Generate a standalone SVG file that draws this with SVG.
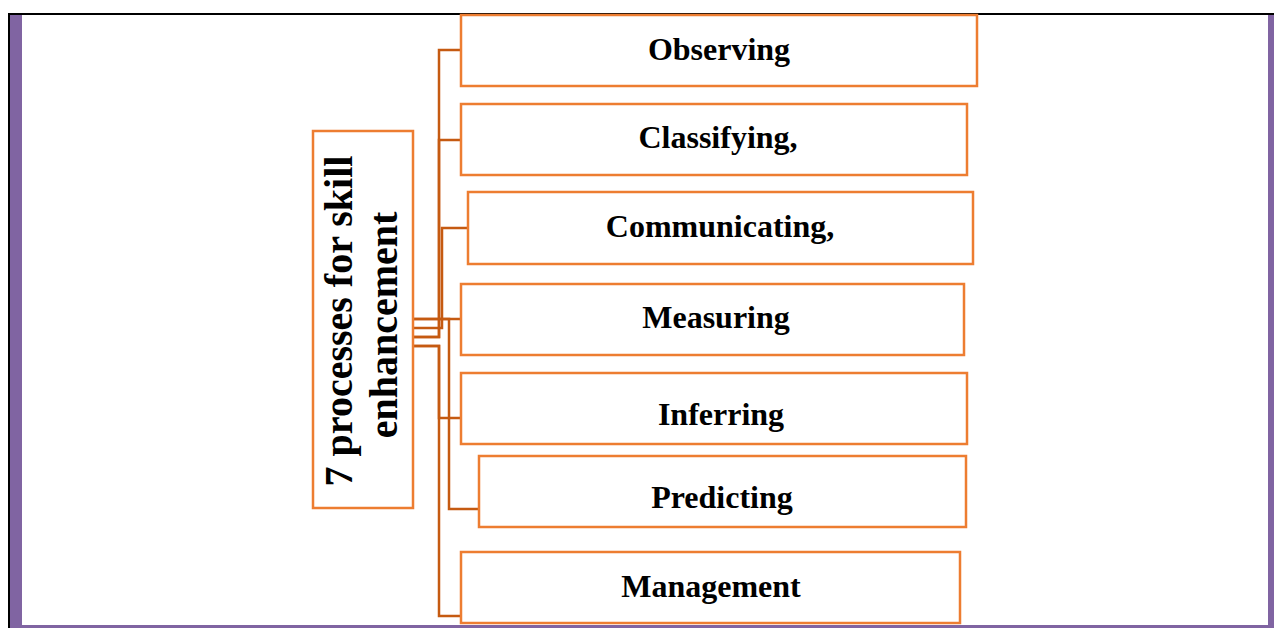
<svg xmlns="http://www.w3.org/2000/svg" width="1274" height="628" viewBox="0 0 1274 628">
  <style>
    .box { fill: #FFFFFF; stroke: #ED7D31; stroke-width: 2.5; }
    .lbl { font-family: "Liberation Serif", "Times New Roman", serif; font-weight: bold; font-size: 32px; fill: #000000; text-anchor: middle; }
    .main { font-family: "Liberation Serif", "Times New Roman", serif; font-weight: bold; font-size: 40px; fill: #000000; text-anchor: middle; }
    .conn { fill: none; stroke: #C55A11; stroke-width: 2.5; }
  </style>
  <rect x="0" y="0" width="1274" height="628" fill="#FFFFFF"/>
  <g id="frame">
    <rect x="8" y="13" width="1266" height="2" fill="#000000"/>
    <rect x="8" y="13" width="2" height="615" fill="#000000"/>
    <rect x="10" y="15" width="12" height="613" fill="#8064A2"/>
    <rect x="10" y="625" width="1264" height="3" fill="#8064A2"/>
    <rect x="1268" y="15" width="6" height="613" fill="#8064A2"/>
  </g>
  <g id="connectors">
    <path class="conn" d="M413,319 H461"/>
    <path class="conn" d="M413,319 H449 V509 H479"/>
    <path class="conn" d="M413,328 H442 V228 H468"/>
    <path class="conn" d="M413,337 H439 V50 H461"/>
    <path class="conn" d="M413,337 H439 V140 H461"/>
    <path class="conn" d="M413,346 H439 V616 H461"/>
    <path class="conn" d="M413,346 H439 V418 H461"/>
  </g>
  <g id="root">
    <rect class="box" x="313" y="131" width="100" height="377"/>
    <g transform="translate(362,321) rotate(-90)">
      <text class="main" x="0" y="-10">7 processes for skill</text>
      <text class="main" x="-4" y="35">enhancement</text>
    </g>
  </g>
  <g id="observing">
    <rect class="box" x="461" y="15" width="516" height="71"/>
    <text class="lbl" x="719" y="60">Observing</text>
  </g>
  <g id="classifying">
    <rect class="box" x="461" y="104" width="506" height="71"/>
    <text class="lbl" x="718" y="148">Classifying,</text>
  </g>
  <g id="communicating">
    <rect class="box" x="468" y="192" width="505" height="72"/>
    <text class="lbl" x="720" y="237">Communicating,</text>
  </g>
  <g id="measuring">
    <rect class="box" x="461" y="284" width="503" height="71"/>
    <text class="lbl" x="716" y="328">Measuring</text>
  </g>
  <g id="inferring">
    <rect class="box" x="461" y="373" width="506" height="71"/>
    <text class="lbl" x="721" y="425">Inferring</text>
  </g>
  <g id="predicting">
    <rect class="box" x="479" y="456" width="487" height="71"/>
    <text class="lbl" x="722" y="508">Predicting</text>
  </g>
  <g id="management">
    <rect class="box" x="461" y="552" width="499" height="71"/>
    <text class="lbl" x="711" y="597">Management</text>
  </g>
</svg>
